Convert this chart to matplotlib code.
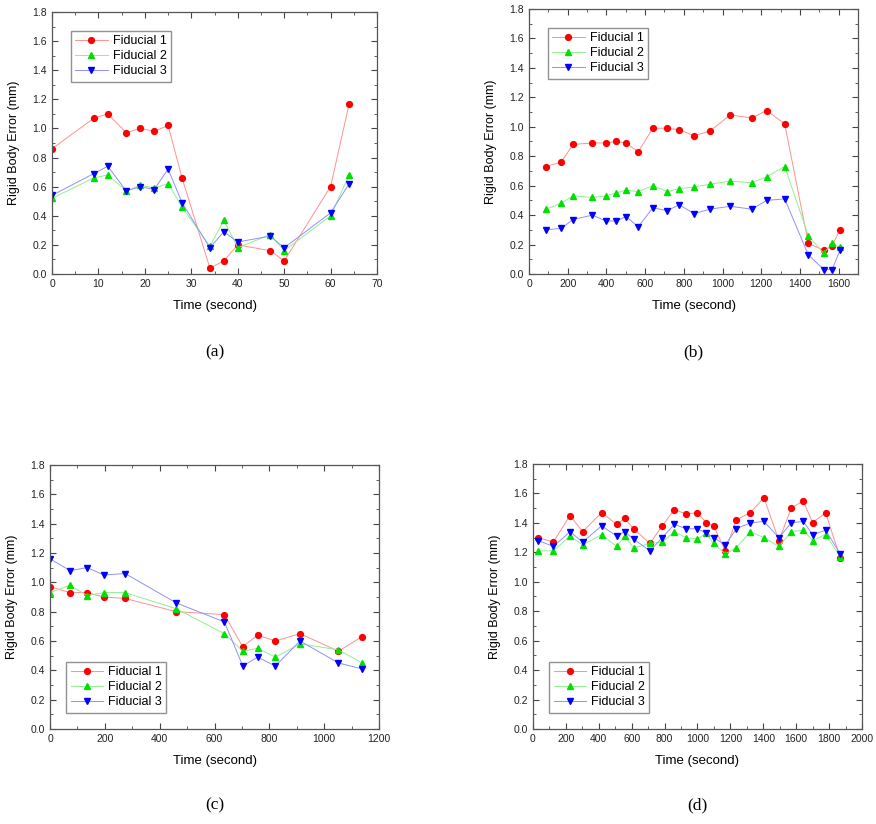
import numpy as np
import matplotlib
matplotlib.use("Agg")
from matplotlib import pyplot as plt
from matplotlib.ticker import MultipleLocator

plt.rcParams['font.family'] = ['Liberation Sans', 'DejaVu Sans']

# panel (a)
t_a = [0, 9, 12, 16, 19, 22, 25, 28, 34, 37, 40, 47, 50, 60, 64]
f1_a = [0.86, 1.07, 1.10, 0.97, 1.00, 0.98, 1.02, 0.66, 0.04, 0.09, 0.20, 0.16, 0.09, 0.60, 1.17]
f2_a = [0.52, 0.66, 0.68, 0.57, 0.61, 0.59, 0.62, 0.46, 0.19, 0.37, 0.18, 0.27, 0.16, 0.40, 0.68]
f3_a = [0.54, 0.69, 0.74, 0.57, 0.60, 0.58, 0.72, 0.49, 0.18, 0.29, 0.22, 0.26, 0.18, 0.42, 0.62]

# panel (b)
t_b = [87, 166, 228, 328, 396, 451, 501, 564, 640, 713, 777, 852, 935, 1039, 1151,
       1228, 1321, 1443, 1523, 1566, 1606]
f1_b = [0.73, 0.76, 0.88, 0.89, 0.89, 0.90, 0.89, 0.83, 0.99, 0.99, 0.98, 0.94, 0.97,
        1.08, 1.06, 1.11, 1.02, 0.21, 0.16, 0.19, 0.30]
f2_b = [0.44, 0.48, 0.53, 0.52, 0.53, 0.55, 0.57, 0.56, 0.60, 0.56, 0.58, 0.59, 0.61,
        0.63, 0.62, 0.66, 0.73, 0.26, 0.14, 0.21, 0.18]
f3_b = [0.30, 0.31, 0.37, 0.40, 0.36, 0.36, 0.39, 0.32, 0.45, 0.43, 0.47, 0.41, 0.44,
        0.46, 0.44, 0.50, 0.51, 0.13, 0.03, 0.03, 0.16]

# panel (c)
t_c = [0, 73, 135, 197, 274, 460, 636, 703, 757, 822, 912, 1052, 1138]
f1_c = [0.97, 0.93, 0.93, 0.90, 0.89, 0.80, 0.78, 0.56, 0.64, 0.60, 0.65, 0.53, 0.63]
f2_c = [0.93, 0.98, 0.91, 0.93, 0.93, 0.82, 0.65, 0.53, 0.55, 0.49, 0.58, 0.54, 0.45]
f3_c = [1.16, 1.08, 1.10, 1.05, 1.06, 0.86, 0.73, 0.43, 0.49, 0.43, 0.60, 0.45, 0.41]

# panel (d)
t_d = [32, 124, 225, 302, 417, 509, 557, 612, 711, 786, 859, 932, 999, 1054, 1098,
       1169, 1236, 1321, 1404, 1495, 1570, 1643, 1700, 1779, 1868]
f1_d = [1.30, 1.27, 1.45, 1.34, 1.47, 1.39, 1.43, 1.36, 1.26, 1.38, 1.49, 1.46, 1.47,
        1.40, 1.38, 1.21, 1.42, 1.47, 1.57, 1.28, 1.50, 1.55, 1.40, 1.47, 1.16]
f2_d = [1.21, 1.21, 1.31, 1.25, 1.32, 1.24, 1.31, 1.23, 1.26, 1.27, 1.34, 1.30, 1.29,
        1.33, 1.26, 1.19, 1.23, 1.34, 1.30, 1.24, 1.34, 1.35, 1.28, 1.32, 1.17]
f3_d = [1.28, 1.24, 1.34, 1.27, 1.38, 1.31, 1.34, 1.29, 1.21, 1.30, 1.39, 1.36, 1.36,
        1.33, 1.30, 1.25, 1.36, 1.40, 1.41, 1.30, 1.40, 1.41, 1.32, 1.35, 1.19]

labels = ['Fiducial 1', 'Fiducial 2', 'Fiducial 3']
captions = ['(a)', '(b)', '(c)', '(d)']

panels = [
    (t_a, [f1_a, f2_a, f3_a], (0, 70), 10, 5, 'upper left'),
    (t_b, [f1_b, f2_b, f3_b], (0, 1700), 200, 100, 'upper left'),
    (t_c, [f1_c, f2_c, f3_c], (0, 1200), 200, 100, 'lower left'),
    (t_d, [f1_d, f2_d, f3_d], (0, 2000), 200, 100, 'lower left'),
]

# axes rectangles in figure fractions
rects = [
    [0.0594, 0.6675, 0.3710, 0.3180],
    [0.6039, 0.6675, 0.3756, 0.3216],
    [0.0571, 0.1153, 0.3756, 0.3204],
    [0.6084, 0.1153, 0.3756, 0.3216],
]

line_cols = ['#ff9090', '#90f090', '#9090ff']
mark_cols = ['#ff0000', '#00e000', '#0000ff']
markers = ['o', '^', 'v']

fig = plt.figure(figsize=(8.76, 8.24), dpi=100)

for i, (t, series, xlim, xmaj, xmin, loc) in enumerate(panels):
    ax = fig.add_axes(rects[i])
    for j, y in enumerate(series):
        ax.plot(t, y, color=line_cols[j], lw=0.7, marker=markers[j], ms=4.2,
                mfc=mark_cols[j], mec=mark_cols[j], label=labels[j])
    ax.set_xlim(*xlim)
    ax.set_ylim(0, 1.8)
    ax.xaxis.set_major_locator(MultipleLocator(xmaj))
    ax.xaxis.set_minor_locator(MultipleLocator(xmin))
    ax.yaxis.set_minor_locator(MultipleLocator(0.1))
    ax.set_yticks(np.arange(0, 1.81, 0.2))
    ax.set_yticklabels(['%.1f' % v for v in np.arange(0, 1.81, 0.2)])
    if i == 1:
        ax.set_xticks(np.arange(0, 1601, 200))
    ax.tick_params(which='both', direction='in', top=True, right=True,
                   labelsize=7.5, color='#444444', labelcolor='#222222')
    ax.tick_params(which='major', length=4)
    ax.tick_params(which='minor', length=2)
    for s in ax.spines.values():
        s.set_color('#555555')
        s.set_linewidth(0.9)
    ax.set_xlabel('Time (second)', fontsize=9.5, labelpad=8)
    ax.set_ylabel('Rigid Body Error (mm)', fontsize=9, labelpad=9)
    leg = ax.legend(loc=loc, fontsize=9, fancybox=False, handlelength=2.6,
                    borderpad=0.35, labelspacing=0.25, handletextpad=0.4,
                    borderaxespad=1.5 if loc == 'upper left' else 1.3)
    leg.get_frame().set_edgecolor('#777777')
    leg.get_frame().set_linewidth(1.0)
    bb = rects[i]
    cy = 1 - 352 / 824 if i < 2 else 1 - 805 / 824
    fig.text(bb[0] + bb[2] / 2, cy, captions[i], ha='center', va='center',
             fontsize=12.5, family=['Liberation Serif', 'DejaVu Serif'])

fig.savefig('out.png', dpi=100)
